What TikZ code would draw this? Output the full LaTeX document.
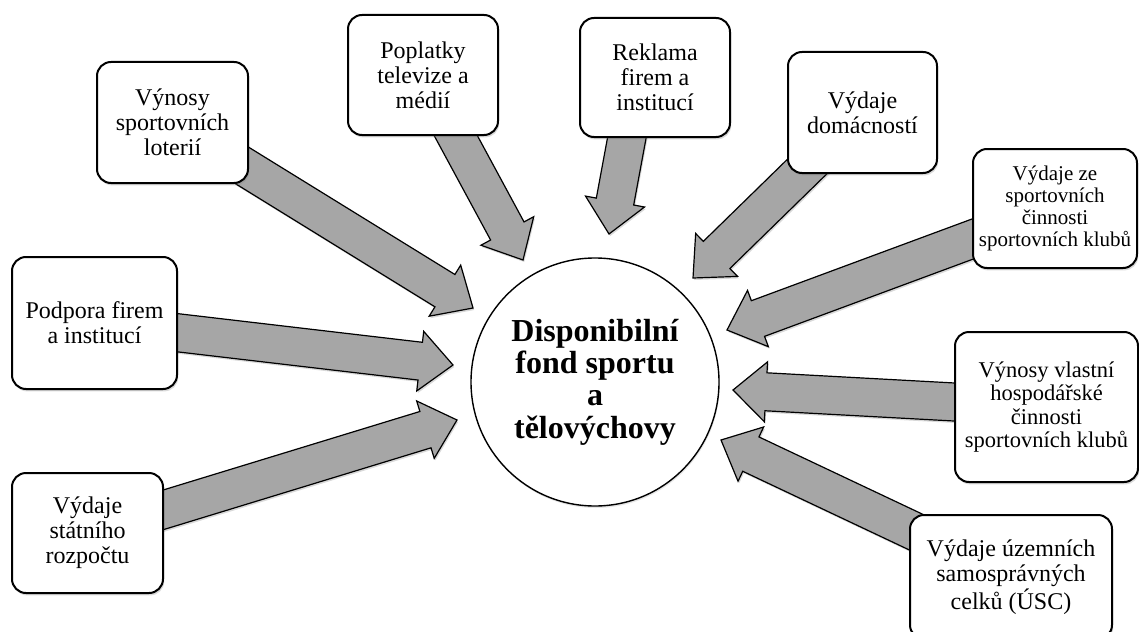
\documentclass[tikz,border=0pt]{standalone}
\usepackage{fontspec}
\setmainfont{Liberation Serif}
\usetikzlibrary{calc,shadows,backgrounds}

% block arrow from a box (#1) to a free tip (#2)
\newcommand{\flow}[2]{%
  \coordinate (fs) at ($(#1)!-10pt!(#2)$);
  \coordinate (fn) at ($(#2)!16.5pt!(#1)$);
  \path[flow] ($(fs)!9.5pt!90:(#2)$) -- ($(fn)!9.5pt!90:(#2)$)
    -- ($(fn)!15pt!90:(#2)$) -- (#2) -- ($(fn)!15pt!-90:(#2)$)
    -- ($(fn)!9.5pt!-90:(#2)$) -- ($(fs)!9.5pt!-90:(#2)$) -- cycle;}

\begin{document}
\begin{tikzpicture}[x=0.5pt,y=-0.5pt]
\tikzstyle{box} = [
 draw,
 line width=1pt,
 rounded corners=7pt,
 fill=white,
 align=center,
 inner sep=1pt,
 font=\fontsize{12}{12.5}\selectfont,
 drop shadow={opacity=0.3,shadow xshift=0.6pt,shadow yshift=-1.2pt}
]
\tikzstyle{hub} = [
 draw,
 circle,
 line width=0.7pt,
 fill=white,
 align=center,
 inner sep=0pt,
 minimum size=124pt,
 font=\fontsize{16}{16.2}\selectfont\bfseries,
 drop shadow={opacity=0.2,shadow xshift=0.4pt,shadow yshift=-1pt}
]
\tikzstyle{flow} = [
 draw,
 line width=0.6pt,
 fill=gray!70,
 drop shadow={opacity=0.3,shadow xshift=0.6pt,shadow yshift=-1pt}
]
\useasboundingbox (0,0) rectangle (1139,631);

\node[hub] at (595,382) (fond) {Disponibilní\\fond sportu\\a\\tělovýchovy};

\node[box,minimum width=75.5pt,minimum height=60.5pt] at (172.5,122.5) (lot) {Výnosy\\sportovních\\loterií};
\node[box,minimum width=75pt,minimum height=60pt] at (423,75) (popl) {Poplatky\\televize a\\médií};
\node[box,minimum width=75pt,minimum height=59.5pt] at (655,77.5) (rek) {Reklama\\firem a\\institucí};
\node[box,minimum width=74.5pt,minimum height=60.5pt] at (862.5,112.5) (dom) {Výdaje\\domácností};
\node[box,minimum width=82pt,minimum height=59.5pt,font=\fontsize{10.5}{10.9}\selectfont] at (1055,208.5) (vze) {Výdaje ze\\sportovních\\činnosti\\sportovních klubů};
\node[box,minimum width=91.5pt,minimum height=75pt,font=\fontsize{11.25}{11.7}\selectfont] at (1046.5,407) (vlast) {Výnosy vlastní\\hospodářské\\činnosti\\sportovních klubů};
\node[box,minimum width=101pt,minimum height=62pt] at (1011,577) (usc) {Výdaje územních\\samosprávných\\celků (ÚSC)};
\node[box,minimum width=82.5pt,minimum height=66pt] at (94.5,323) (podp) {Podpora firem\\a institucí};
\node[box,minimum width=75.5pt,minimum height=60pt] at (87.5,533) (stat) {Výdaje\\státního\\rozpočtu};

% arrow tips
\coordinate (tlot) at (473,308);
\coordinate (tpopl) at (523,260);
\coordinate (trek) at (609,234);
\coordinate (tdom) at (693,278);
\coordinate (tvze) at (727,330);
\coordinate (tvlast) at (733,390);
\coordinate (tusc) at (721,440);
\coordinate (tpodp) at (453,365);
\coordinate (tstat) at (457,420);

\begin{scope}[on background layer]
\flow{lot}{tlot}
\flow{popl}{tpopl}
\flow{rek.245}{trek}
\flow{dom}{tdom}
\flow{vze}{tvze}
\flow{vlast}{tvlast}
\flow{usc}{tusc}
\flow{podp}{tpodp}
\flow{stat}{tstat}
\end{scope}
\end{tikzpicture}
\end{document}
